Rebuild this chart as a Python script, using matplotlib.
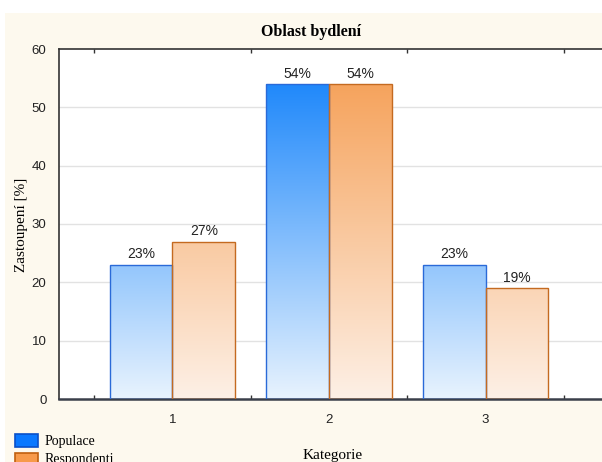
import numpy as np
import matplotlib
matplotlib.use("Agg")
import matplotlib.pyplot as plt
from matplotlib.patches import Rectangle
from matplotlib.colors import LinearSegmentedColormap

categories = [1, 2, 3]
populace = [23, 54, 23]
respondenti = [27, 54, 19]
series_names = ["Populace", "Respondenti"]

W, H = 602, 462
fig = plt.figure(figsize=(W / 100, H / 100), dpi=100, facecolor="white")
# cream panel behind the plot (leaves a thin white strip top/left)
fig.add_artist(Rectangle((5 / W, 0), 1, (H - 13) / H, transform=fig.transFigure,
                         facecolor="#fdf9ee", edgecolor="none", zorder=-10))

ax = fig.add_axes([59 / W, (H - 399) / H, 545 / W, 350 / H])
ax.set_facecolor("white")

cmap_blue = LinearSegmentedColormap.from_list("b", [(232/255, 243/255, 254/255), (10/255, 125/255, 250/255)])
cmap_orange = LinearSegmentedColormap.from_list("o", [(253/255, 240/255, 230/255), (245/255, 155/255, 78/255)])
grad = np.linspace(0, 1, 256).reshape(-1, 1)

width = 0.4
x = np.array(categories, dtype=float)
for vals, off, cmap, edge in [(populace, -width / 2, cmap_blue, "#2a6ad8"),
                              (respondenti, width / 2, cmap_orange, "#c46a20")]:
    bars = ax.bar(x + off, vals, width, facecolor="none", edgecolor=edge, linewidth=1.0, zorder=3)
    for b, v in zip(bars, vals):
        x0 = b.get_x()
        # vertical gradient fill, clipped to the bar outline
        im = ax.imshow(grad, cmap=cmap, origin="lower", aspect="auto",
                       extent=(x0, x0 + width, 0, 60), zorder=2)
        im.set_clip_path(b)
        ax.text(b.get_x() + width / 2, v + 0.6, f"{v}%", ha="center", va="bottom",
                fontsize=10, family="Liberation Sans", color="#222222", zorder=4)

ax.set_xlim(0.275, 3.757)
ax.set_ylim(0, 60)
ax.set_yticks(range(0, 61, 10))
ax.set_xticks(categories)
ax.set_xticks([0.5, 1.5, 2.5, 3.5], minor=True)
for yv in range(10, 60, 10):
    ax.axhline(yv, color="#e2e2e2", linewidth=1.0, zorder=1)

ax.tick_params(axis="y", length=0, pad=9, labelsize=9.5, labelcolor="#222222")
ax.tick_params(axis="x", which="major", length=0, pad=11, labelsize=9.5, labelcolor="#222222")
ax.tick_params(axis="x", which="minor", direction="in", top=True, bottom=True, length=3,
               width=1, color="#333333")
for lab in ax.get_xticklabels() + ax.get_yticklabels():
    lab.set_family("Liberation Sans")

for s in ["left", "top"]:
    ax.spines[s].set_color("#333333")
    ax.spines[s].set_linewidth(1.2)
ax.spines["bottom"].set_color("#3a3f4a")
ax.spines["bottom"].set_linewidth(1.8)
ax.spines["right"].set_visible(False)

fig.text(311 / W, 1 - 32 / H, "Oblast bydlení", ha="center", va="center",
         family="Liberation Serif", fontweight="bold", fontsize=11.5)
fig.text(22 / W, 1 - 225 / H, "Zastoupení [%]", ha="center", va="center", rotation=90,
         family="Liberation Serif", fontsize=11)
fig.text(333 / W, 1 - 455 / H, "Kategorie", ha="center", va="center",
         family="Liberation Serif", fontsize=11)

# legend at lower left
for i, (name, fc, ec) in enumerate(zip(series_names, ["#0a78ff", "#f79a4a"], ["#0a50c8", "#c0600f"])):
    top = 434 + i * 19
    fig.add_artist(Rectangle((15 / W, 1 - (top + 13) / H), 23 / W, 13 / H, transform=fig.transFigure,
                             facecolor=fc, edgecolor=ec, linewidth=1.2))
    fig.text(45 / W, 1 - (top + 7) / H, name, ha="left", va="center",
             family="Liberation Serif", fontsize=10)

fig.savefig("out.png", dpi=100)
